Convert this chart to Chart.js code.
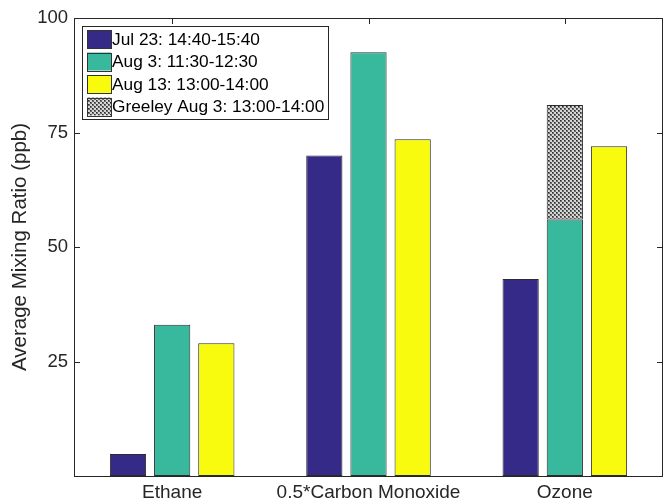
<!DOCTYPE html>
<html>
<head>
<meta charset="utf-8">
<script src="https://cdn.jsdelivr.net/npm/chart.js@4.4.0/dist/chart.umd.min.js"></script>
<style>
    html, body { margin: 0; padding: 0; background: #fff; }
    #wrap { width: 665px; height: 504px; }
</style>
</head>
<body>
<div id="wrap"><canvas id="mixChart" width="665" height="504"></canvas></div>
<script>
const categories = ['Ethane', '0.5*Carbon Monoxide', 'Ozone'];
const seriesLabels = ['Jul 23: 14:40-15:40', 'Aug 3: 11:30-12:30', 'Aug 13: 13:00-14:00', 'Greeley Aug 3: 13:00-14:00'];
const jul23 = [4.8, 70, 43];
const aug3 = [33, 92.5, 56];
const aug13 = [29, 73.5, 72];
const greeleyExtra = [null, null, 25]; // stacked on top of Aug 3 ozone
const yTicks = [25, 50, 75, 100];

const FONT = '"Liberation Sans", Arial, sans-serif';

// crosshatch-ish grey checker pattern
function makeHatch() {
    const c = document.createElement('canvas');
    c.width = 4; c.height = 4;
    const g = c.getContext('2d');
    g.fillStyle = '#d6d6d6';
    g.fillRect(0, 0, 4, 4);
    g.fillStyle = '#6a6a6a';
    g.fillRect(0, 0, 2, 2);
    g.fillRect(2, 2, 2, 2);
    g.fillStyle = '#2a2a2a';
    g.fillRect(0, 0, 1, 1);
    g.fillRect(2, 2, 1, 1);
    return g.createPattern(c, 'repeat');
}
const hatch = makeHatch();

const colors = {
    blue: '#352a87',
    teal: '#38b89d',
    yellow: '#f9fb0e'
};

// MATLAB-like box with inward ticks, plus the legend box
const boxPlugin = {
    id: 'matlabBox',
    afterDraw(chart) {
        const ctx = chart.ctx;
        const a = chart.chartArea;
        const yS = chart.scales.y;
        const xS = chart.scales.x;
        ctx.save();
        ctx.strokeStyle = '#262626';
        ctx.lineWidth = 1;
        ctx.strokeRect(a.left + 0.5, a.top + 0.5, a.right - a.left - 1, a.bottom - a.top);
        ctx.beginPath();
        yTicks.forEach(v => {
            const py = Math.round(yS.getPixelForValue(v)) + 0.5;
            ctx.moveTo(a.left, py); ctx.lineTo(a.left + 6, py);
            ctx.moveTo(a.right, py); ctx.lineTo(a.right - 6, py);
        });
        categories.forEach((c, i) => {
            const px = Math.round(xS.getPixelForValue(i)) + 0.5;
            ctx.moveTo(px, a.top); ctx.lineTo(px, a.top + 6);
        });
        ctx.stroke();

        // legend
        const lx = 82, ly = 26, lw = 246, lh = 93;
        ctx.fillStyle = '#fff';
        ctx.fillRect(lx, ly, lw, lh);
        ctx.strokeStyle = '#262626';
        ctx.strokeRect(lx + 0.5, ly + 0.5, lw, lh);
        const fills = [colors.blue, colors.teal, colors.yellow, hatch];
        ctx.font = '17.3px ' + FONT;
        ctx.textBaseline = 'middle';
        seriesLabels.forEach((lab, i) => {
            const cy = ly + 13 + i * 22.5;
            ctx.fillStyle = fills[i];
            ctx.fillRect(87, cy - 9, 24, 18);
            ctx.strokeStyle = '#333';
            ctx.strokeRect(87.5, Math.round(cy - 9) + 0.5, 24, 18);
            ctx.fillStyle = '#000';
            ctx.fillText(lab, 112, cy + 1);
        });
        ctx.restore();
    }
};

function barSet(label, data, color, stack) {
    return {
        label: label,
        data: data,
        backgroundColor: color,
        borderColor: '#2b2b2b',
        borderWidth: 1,
        borderSkipped: false,
        stack: stack,
        barPercentage: 0.82,
        categoryPercentage: 0.675
    };
}

new Chart(document.getElementById('mixChart'), {
    type: 'bar',
    data: {
        labels: categories,
        datasets: [
            barSet(seriesLabels[0], jul23, colors.blue, 'a'),
            barSet(seriesLabels[1], aug3, colors.teal, 'b'),
            barSet(seriesLabels[3], greeleyExtra, hatch, 'b'),
            barSet(seriesLabels[2], aug13, colors.yellow, 'c')
        ]
    },
    options: {
        responsive: false,
        animation: false,
        layout: { padding: { top: 18, right: 2, left: 0, bottom: 0 } },
        plugins: {
            legend: { display: false },
            tooltip: { enabled: false }
        },
        scales: {
            x: {
                stacked: true,
                grid: { display: false, drawTicks: false },
                border: { display: false },
                ticks: {
                    color: '#262626',
                    font: { family: FONT, size: 19 },
                    padding: 5,
                    maxRotation: 0
                },
                afterFit(scale) { scale.height = 28; }
            },
            y: {
                stacked: true,
                min: 0,
                max: 100,
                grid: { display: false, drawTicks: false },
                border: { display: false },
                afterBuildTicks(scale) {
                    scale.ticks = yTicks.map(v => ({ value: v }));
                },
                ticks: {
                    color: '#262626',
                    font: { family: FONT, size: 18.5 },
                    padding: 6
                },
                title: {
                    display: true,
                    text: 'Average Mixing Ratio (ppb)',
                    color: '#262626',
                    font: { family: FONT, size: 20.5 },
                    padding: { top: 8, bottom: 4 }
                },
                afterFit(scale) { scale.width = 74; }
            }
        }
    },
    plugins: [boxPlugin]
});
</script>
</body>
</html>
